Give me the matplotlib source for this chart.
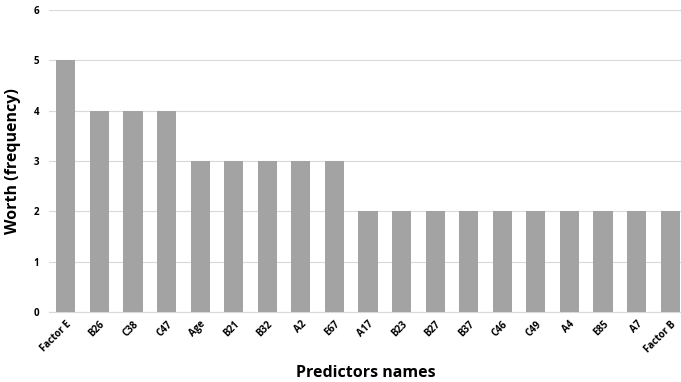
import matplotlib
matplotlib.use('Agg')
import matplotlib.pyplot as plt

# predictor names and their worth (frequency)
predictors = ['Factor E', 'B26', 'C38', 'C47', 'Age', 'B21', 'B32', 'A2', 'E67',
              'A17', 'B23', 'B27', 'B37', 'C46', 'C49', 'A4', 'E85', 'A7', 'Factor B']
worth = [5, 4, 4, 4, 3, 3, 3, 3, 3, 2, 2, 2, 2, 2, 2, 2, 2, 2, 2]

plt.rcParams['font.family'] = ['Open Sans', 'DejaVu Sans']

fig = plt.figure(figsize=(6.81, 3.82), dpi=100)
W, H = 681, 382
ax = fig.add_axes([49 / W, 1 - 312 / H, (687 - 49) / W, (312 - 10) / H])

x = range(len(predictors))
ax.bar(x, worth, width=0.57, color='#a3a3a3', zorder=3)

ax.set_xlim(-0.5, len(predictors) - 0.5)
ax.set_ylim(0, 6)
ax.set_yticks(range(0, 7))
ax.set_yticklabels([str(v) for v in range(0, 7)], fontsize=7, fontweight='bold')
ax.set_xticks(list(x))
ax.set_xticklabels(predictors, rotation=45, ha='right', rotation_mode='anchor',
                   fontsize=7, fontweight='bold')
ax.tick_params(axis='y', length=0, pad=7)
ax.tick_params(axis='x', length=0, pad=5)

ax.grid(axis='y', color='#d9d9d9', linewidth=0.8, zorder=0)
for side in ['top', 'right', 'left']:
    ax.spines[side].set_visible(False)
ax.spines['bottom'].set_color('#d9d9d9')

ax.set_ylabel('Worth (frequency)', fontsize=11.5, fontweight='bold', labelpad=9)
fig.text(366 / W, 1 - 373 / H, 'Predictors names', fontsize=11.5, fontweight='bold',
         ha='center', va='center')

fig.savefig('out.png', dpi=100)
